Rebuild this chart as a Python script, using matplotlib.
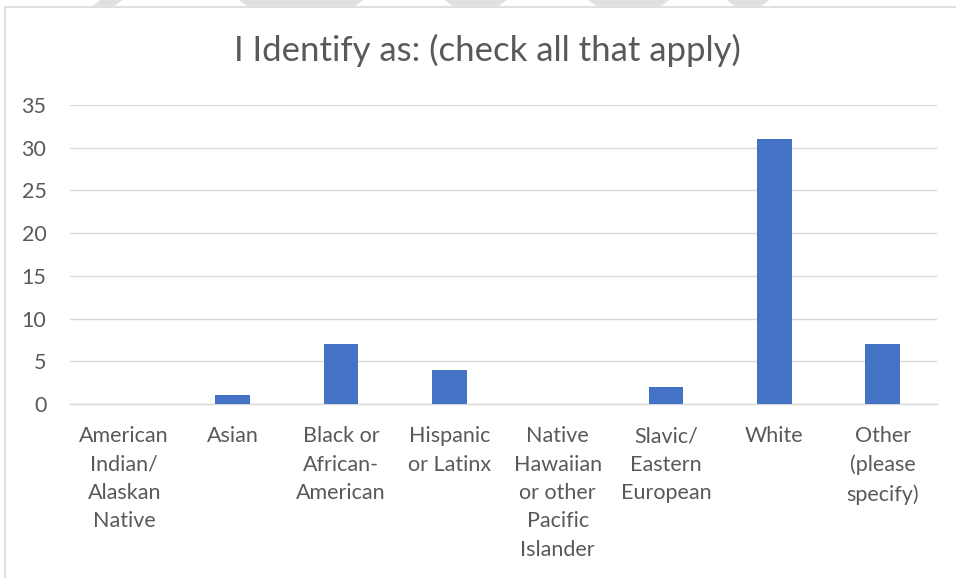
import matplotlib.pyplot as plt
from matplotlib.patches import Rectangle, Polygon

# Survey answers
categories = ["American\nIndian/\nAlaskan\nNative", "Asian", "Black or\nAfrican-\nAmerican",
              "Hispanic\nor Latinx", "Native\nHawaiian\nor other\nPacific\nIslander",
              "Slavic/\nEastern\nEuropean", "White", "Other\n(please\nspecify)"]
counts = [0, 1, 7, 4, 0, 2, 31, 7]
yticks = [0, 5, 10, 15, 20, 25, 30, 35]

plt.rcParams['font.family'] = ['Lato', 'DejaVu Sans']
text_color = '#595959'

fig = plt.figure(figsize=(9.56, 5.78), dpi=100)

# faint watermark stripes along the top edge
for xs in [(0.105, 0.128, 0.12, 0.097), (0.25, 0.38, 0.372, 0.258), (0.465, 0.53, 0.522, 0.473),
           (0.615, 0.70, 0.692, 0.623), (0.76, 0.805, 0.797, 0.768)]:
    fig.patches.append(Polygon([(xs[0], 1.0), (xs[1], 1.0), (xs[2], 0.99), (xs[3], 0.99)],
                               closed=True, transform=fig.transFigure, facecolor='#e0e0e0',
                               edgecolor='none', zorder=0))

# chart frame
fig.patches.append(Rectangle((5 / 956, -0.1), 1.2, 1 - 7 / 578 + 0.1, transform=fig.transFigure,
                             facecolor='none', edgecolor='#d9d9d9', linewidth=1.2, zorder=1))

ax = fig.add_axes([70 / 956, 1 - 404 / 578, (937 - 70) / 956, (404 - 105) / 578])
x = range(len(categories))
ax.bar(x, counts, width=0.32, color='#4472C4', zorder=3)

ax.set_xlim(-0.5, len(categories) - 0.5)
ax.set_ylim(0, 35)
ax.set_yticks(yticks)
ax.set_xticks(list(x))
ax.set_xticklabels(categories, linespacing=1.52)
ax.grid(axis='y', color='#d9d9d9', linewidth=1.0, zorder=0)

for side in ['top', 'right', 'left']:
    ax.spines[side].set_visible(False)
ax.spines['bottom'].set_color('#d9d9d9')
ax.spines['bottom'].set_linewidth(1.0)

ax.tick_params(axis='both', length=0, labelsize=15.5, labelcolor=text_color)
ax.tick_params(axis='x', pad=16)
ax.tick_params(axis='y', pad=17)
for lbl in ax.get_yticklabels():
    lbl.set_horizontalalignment('right')

fig.text(0.51, 1 - 50 / 578, "I Identify as: (check all that apply)", ha='center', va='center',
         fontsize=25, color=text_color)

fig.savefig("out.png", dpi=100)
